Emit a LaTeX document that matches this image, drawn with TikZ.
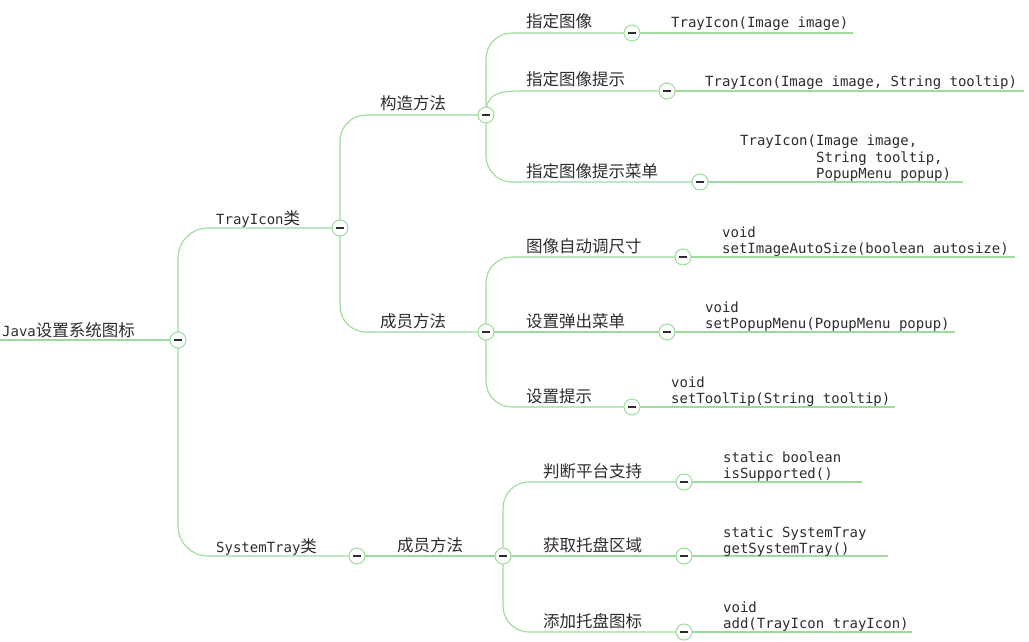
\documentclass[tikz,border=0pt]{standalone}
\usepackage{fontspec}
\setmonofont{DejaVu Sans Mono}
\newfontfamily\cjk{Noto Sans CJK SC}
\usetikzlibrary{backgrounds}
\definecolor{lk}{RGB}{155,220,155}
\definecolor{tx}{RGB}{45,45,45}
\newcommand\zhtxt[1]{{\fontsize{16.5}{18}\selectfont\cjk #1}}
\begin{document}
\begin{tikzpicture}[x=1pt,y=-1pt,
  lbl/.style={anchor=base west,inner sep=0pt,font=\fontsize{14}{16}\selectfont\ttfamily,text=tx},
  zh/.style={anchor=base west,inner sep=0pt,font=\fontsize{16.5}{18}\selectfont\cjk,text=tx},
  dot/.style={circle,draw=lk,fill=white,line width=1pt,minimum size=16pt,inner sep=0pt,
    path picture={\draw[tx,line width=1.2pt] ([xshift=-4pt]path picture bounding box.center) -- ([xshift=4pt]path picture bounding box.center);}},
  link/.style={draw=lk,line width=1.1pt},
  elbow/.style={link,rounded corners=26pt}]
\useasboundingbox (0,0) rectangle (1029,642);

% root
\node[lbl] (root) at (2,336) {Java\zhtxt{设置系统图标}};
\coordinate (R0) at (0,340);
\node[dot] (R) at (178,340) {};

% level 1
\node[lbl] (tray) at (216,224) {TrayIcon\zhtxt{类}};
\node[dot] (T) at (340,228) {};
\node[lbl] (sys) at (216,552) {SystemTray\zhtxt{类}};
\node[dot] (S) at (357,556) {};

% level 2
\node[zh] (gz) at (380,110) {构造方法};
\node[dot] (K) at (486,115) {};
\node[zh] (cy) at (380,327) {成员方法};
\node[dot] (M) at (486,332) {};
\node[zh] (cy2) at (397,551) {成员方法};
\node[dot] (N) at (503,556) {};

% level 3 under 构造方法
\node[zh] (a1t) at (526,28) {指定图像};
\node[dot] (A1) at (632,33) {};
\node[zh] (a2t) at (526,86) {指定图像提示};
\node[dot] (A2) at (667,91) {};
\node[zh] (a3t) at (526,177) {指定图像提示菜单};
\node[dot] (A3) at (700,182) {};

% level 3 under 成员方法
\node[zh] (b1t) at (526,252) {图像自动调尺寸};
\node[dot] (B1) at (683,257) {};
\node[zh] (b2t) at (526,327) {设置弹出菜单};
\node[dot] (B2) at (667,332) {};
\node[zh] (b3t) at (526,402) {设置提示};
\node[dot] (B3) at (632,407) {};

% level 3 under SystemTray 成员方法
\node[zh] (c1t) at (543,477) {判断平台支持};
\node[dot] (C1) at (684,482) {};
\node[zh] (c2t) at (543,551) {获取托盘区域};
\node[dot] (C2) at (684,556) {};
\node[zh] (c3t) at (543,627) {添加托盘图标};
\node[dot] (C3) at (684,632) {};

% leaves
\node[lbl] (a1l) at (671,28) {TrayIcon(Image image)};
\coordinate (A1e) at (853,33);
\node[lbl] (a2l) at (705,87) {TrayIcon(Image image, String tooltip)};
\coordinate (A2e) at (1024,91);
\node[lbl] (a3l1) at (740,145) {TrayIcon(Image image,};
\node[lbl] (a3l2) at (816,162) {String tooltip,};
\node[lbl] (a3l3) at (816,178) {PopupMenu popup)};
\coordinate (A3e) at (963,182);

\node[lbl] (b1l1) at (722,237) {void};
\node[lbl] (b1l2) at (722,253) {setImageAutoSize(boolean autosize)};
\coordinate (B1e) at (1015,257);
\node[lbl] (b2l1) at (705,312) {void};
\node[lbl] (b2l2) at (705,328) {setPopupMenu(PopupMenu popup)};
\coordinate (B2e) at (955,332);
\node[lbl] (b3l1) at (671,387) {void};
\node[lbl] (b3l2) at (671,403) {setToolTip(String tooltip)};
\coordinate (B3e) at (895,407);

\node[lbl] (c1l1) at (723,462) {static boolean};
\node[lbl] (c1l2) at (723,478) {isSupported()};
\coordinate (C1e) at (862,482);
\node[lbl] (c2l1) at (723,537) {static SystemTray};
\node[lbl] (c2l2) at (723,553) {getSystemTray()};
\coordinate (C2e) at (888,556);
\node[lbl] (c3l1) at (723,612) {void};
\node[lbl] (c3l2) at (723,628) {add(TrayIcon trayIcon)};
\coordinate (C3e) at (912,632);

\begin{scope}[on background layer]
  \fill[white] (0,0) rectangle (1029,642);
  \draw[link] (R0) -- (R.center);
  \draw[elbow,rounded corners=30pt] (R.center) |- (T.center);
  \draw[elbow,rounded corners=30pt] (R.center) |- (S.center);
  \draw[elbow] (T.center) |- (K.center);
  \draw[elbow] (T.center) |- (M.center);
  \draw[link] (S.center) -- (N.center);
  \draw[elbow] (K.center) |- (A1.center);
  \draw[link] (K.center) .. controls (486,95) and (495,91) .. (523,91) -- (A2.center);
  \draw[elbow] (K.center) |- (A3.center);
  \draw[elbow] (M.center) |- (B1.center);
  \draw[link] (M.center) -- (B2.center);
  \draw[elbow] (M.center) |- (B3.center);
  \draw[elbow] (N.center) |- (C1.center);
  \draw[link] (N.center) -- (C2.center);
  \draw[elbow] (N.center) |- (C3.center);
  \draw[link] (A1.center) -- (A1e);
  \draw[link] (A2.center) -- (A2e);
  \draw[link] (A3.center) -- (A3e);
  \draw[link] (B1.center) -- (B1e);
  \draw[link] (B2.center) -- (B2e);
  \draw[link] (B3.center) -- (B3e);
  \draw[link] (C1.center) -- (C1e);
  \draw[link] (C2.center) -- (C2e);
  \draw[link] (C3.center) -- (C3e);
\end{scope}
\end{tikzpicture}
\end{document}
